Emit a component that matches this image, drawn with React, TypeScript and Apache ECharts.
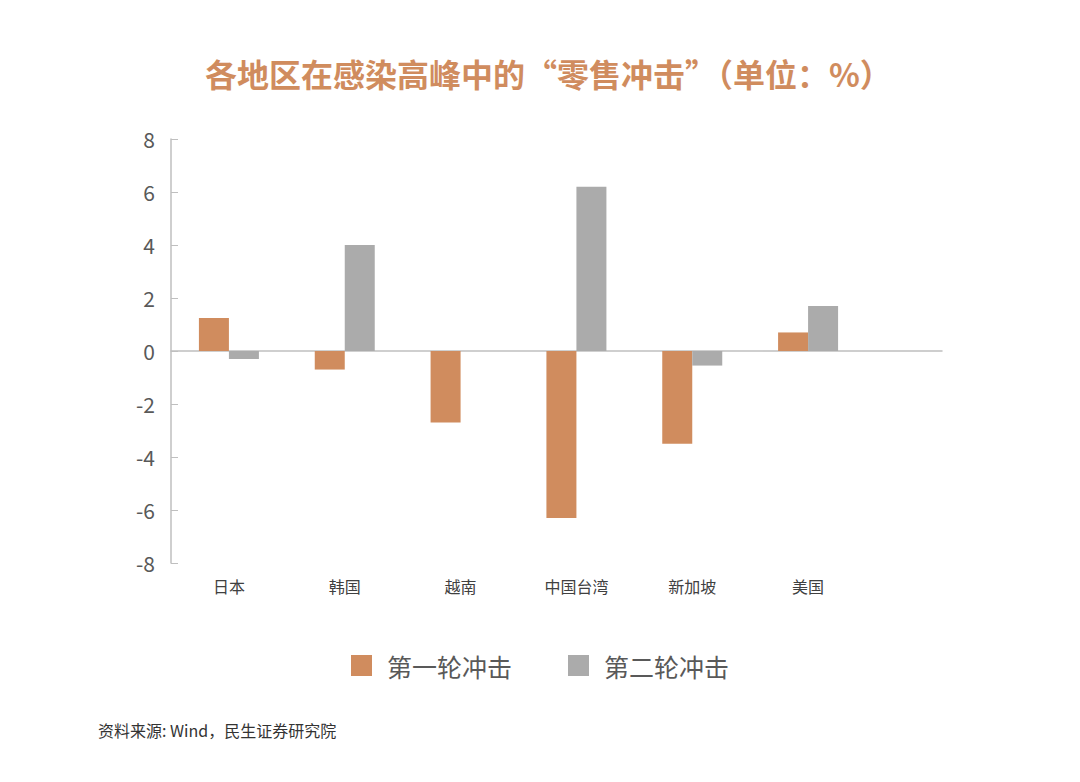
import React, { useEffect, useRef } from "react";
import * as echarts from "echarts";

const categories = ["日本", "韩国", "越南", "中国台湾", "新加坡", "美国"];
const firstWave = [1.25, -0.7, -2.7, -6.3, -3.5, 0.7];
const secondWave: (number | null)[] = [-0.3, 4.0, null, 6.2, -0.55, 1.7];
const seriesNames = ["第一轮冲击", "第二轮冲击"];
const yMin = -8;
const yMax = 8;
const yStep = 2;

const FONT = '"Noto Sans CJK SC", "Noto Sans", sans-serif';

export default function App() {
  const ref = useRef<HTMLDivElement>(null);
  useEffect(() => {
    if (!ref.current) return;
    const chart = echarts.init(ref.current, undefined, { renderer: "svg" });
    chart.setOption({
      animation: false,
      backgroundColor: "#ffffff",
      title: {
        text: "各地区在感染高峰中的“零售冲击”（单位：%）",
        left: 200,
        top: 52,
        textStyle: {
          fontFamily: FONT,
          fontSize: 32,
          fontWeight: "bold",
          color: "#D08C5E",
        },
      },
      graphic: [
        {
          type: "text",
          left: 98,
          top: 722,
          style: {
            text: "资料来源: Wind，民生证券研究院",
            fontFamily: FONT,
            fontSize: 16,
            fill: "#333333",
          },
        },
      ],
      legend: {
        data: seriesNames,
        bottom: 99,
        left: "center",
        itemWidth: 21,
        itemHeight: 21,
        itemGap: 56,
        icon: "rect",
        textStyle: { fontFamily: FONT, fontSize: 25, color: "#595959", padding: [0, 0, 0, 10] },
      },
      grid: [
        { left: 171, top: 139, width: 695, height: 424 },
        { left: 171, top: 139, width: 771, height: 424 },
      ],
      xAxis: [
        {
          type: "category",
          gridIndex: 0,
          data: categories,
          axisLine: { show: false, onZero: false },
          axisTick: { show: false },
          axisLabel: {
            fontFamily: FONT,
            fontSize: 16,
            color: "#404040",
            margin: 15,
          },
        },
        {
          type: "value",
          gridIndex: 1,
          min: 0,
          max: 1,
          axisLine: { show: true, onZero: true, lineStyle: { color: "#BFBFBF", width: 1.5 } },
          axisTick: { show: false },
          axisLabel: { show: false },
          splitLine: { show: false },
        },
      ],
      yAxis: [
        {
          type: "value",
          gridIndex: 0,
          min: yMin,
          max: yMax,
          interval: yStep,
          axisLine: { show: true, lineStyle: { color: "#BFBFBF", width: 1.5 } },
          axisTick: { show: true, inside: true, length: 7, lineStyle: { color: "#BFBFBF" } },
          axisLabel: {
            fontFamily: FONT,
            fontSize: 21,
            color: "#595959",
            margin: 16,
          },
          splitLine: { show: false },
        },
        {
          type: "value",
          gridIndex: 1,
          min: yMin,
          max: yMax,
          show: false,
        },
      ],
      series: [
        {
          name: seriesNames[0],
          type: "bar",
          xAxisIndex: 0,
          yAxisIndex: 0,
          data: firstWave,
          barWidth: 30,
          barGap: "0%",
          itemStyle: { color: "#D08C5E" },
        },
        {
          name: seriesNames[1],
          type: "bar",
          xAxisIndex: 0,
          yAxisIndex: 0,
          data: secondWave,
          barWidth: 30,
          barGap: "0%",
          itemStyle: { color: "#ABABAB" },
        },
      ],
    });
    return () => chart.dispose();
  }, []);
  return <div ref={ref} style={{ width: 1080, height: 782, margin: -8 }} />;
}
